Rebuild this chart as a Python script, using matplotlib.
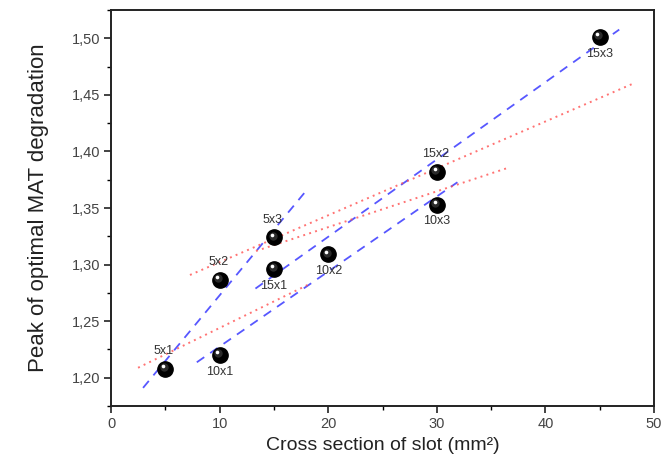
import numpy as np
import matplotlib
matplotlib.use("Agg")
import matplotlib.pyplot as plt
from matplotlib.ticker import MultipleLocator, FuncFormatter
from matplotlib.transforms import ScaledTranslation

plt.rcParams['font.family'] = ['Liberation Sans', 'DejaVu Sans']

# Data
labels = ["5x1", "5x2", "5x3", "10x1", "10x2", "10x3", "15x1", "15x2", "15x3"]
cross_section = [5, 10, 15, 10, 20, 30, 15, 30, 45]
peak = [1.208, 1.2864, 1.324, 1.220, 1.309, 1.3526, 1.296, 1.3817, 1.501]
label_above = [True, True, True, False, False, False, False, True, False]

# Groups (same slot width) for blue dashed fits, with drawn x-range
groups = [["5x1", "5x2", "5x3"], ["10x1", "10x2", "10x3"], ["15x1", "15x2", "15x3"]]
group_xrange = [(2.95, 17.9), (7.9, 31.9), (13.3, 46.8)]

# Red dotted trend lines
red_x0 = [7.27, 13.35, 2.49]
red_x1 = [47.97, 36.46, 18.3]
red_y0 = [1.2908, 1.312, 1.2088]
red_y1 = [1.4595, 1.3852, 1.2829]

fig = plt.figure(figsize=(6.62, 4.61), dpi=100)
ax = fig.add_axes([0.1677, 0.1193, 0.8202, 0.859])

idx = {l: i for i, l in enumerate(labels)}
for g, (xa, xb) in zip(groups, group_xrange):
    gx = np.array([cross_section[idx[l]] for l in g])
    gy = np.array([peak[idx[l]] for l in g])
    k, b = np.polyfit(gx, gy, 1)
    xs = np.array([xa, xb])
    ax.plot(xs, k * xs + b, color='#3a3aff', lw=1.3, ls=(0, (5, 4)), alpha=0.85, zorder=2)

for xa, xb, ya, yb in zip(red_x0, red_x1, red_y0, red_y1):
    ax.plot([xa, xb], [ya, yb], color='#ff5050', lw=1.4, ls=(0, (1, 2.2)), alpha=0.8, zorder=2)

# shiny black spheres
ax.plot(cross_section, peak, 'o', ms=11, color='black', mec='black', zorder=4)
off = ScaledTranslation(-1.0/72, 1.2/72, fig.dpi_scale_trans)
ax.plot(cross_section, peak, 'o', ms=6.0, color='#2a2a2a', mec='none', zorder=5,
        transform=ax.transData + off)
off2 = ScaledTranslation(-1.6/72, 2.0/72, fig.dpi_scale_trans)
ax.plot(cross_section, peak, 'o', ms=2.6, color='white', mec='none', zorder=6,
        transform=ax.transData + off2)

for l, x, y, up in zip(labels, cross_section, peak, label_above):
    if up:
        ax.annotate(l, (x, y), xytext=(-1, 8.5), textcoords='offset points', ha='center', va='bottom',
                    fontsize=9, color='#333333', zorder=7)
    else:
        ax.annotate(l, (x, y), xytext=(0, -7.5), textcoords='offset points', ha='center', va='top',
                    fontsize=9, color='#333333', zorder=7)

ax.set_xlim(0, 50)
ax.set_ylim(1.175, 1.525)
ax.xaxis.set_major_locator(MultipleLocator(10))
ax.xaxis.set_minor_locator(MultipleLocator(5))
ax.yaxis.set_major_locator(MultipleLocator(0.05))
ax.yaxis.set_minor_locator(MultipleLocator(0.025))
ax.yaxis.set_major_formatter(FuncFormatter(lambda v, p: f"{v:.2f}".replace('.', ',')))
ax.tick_params(which='major', direction='out', length=5, width=1.2, labelsize=10.5, colors='#222222',
               labelcolor='#444444', top=False, right=False, pad=3)
ax.tick_params(which='minor', direction='out', length=3, width=1.0, top=False, right=False)
for s in ax.spines.values():
    s.set_linewidth(1.4)
    s.set_color('#222222')

ax.set_xlabel('Cross section of slot (mm\u00b2)', fontsize=14, color='#222222', labelpad=4)
ax.set_ylabel('Peak of optimal MAT degradation', fontsize=16, color='#222222', labelpad=16)

fig.savefig('out.png', dpi=100)
